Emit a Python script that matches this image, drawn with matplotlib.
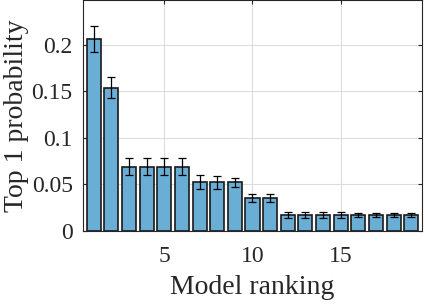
import matplotlib
matplotlib.use('Agg')
import matplotlib.pyplot as plt
import numpy as np

ranks = np.arange(1, 20)
top1_prob = [0.206, 0.154, 0.069, 0.069, 0.069, 0.069, 0.052, 0.052, 0.052,
             0.035, 0.035, 0.017, 0.017, 0.017, 0.017, 0.017, 0.017, 0.017, 0.017]
top1_err = [0.014, 0.011, 0.0095, 0.0095, 0.0095, 0.0095, 0.0075, 0.007, 0.005,
            0.0043, 0.0043, 0.0033, 0.0033, 0.003, 0.0028, 0.0018, 0.0018, 0.0018, 0.0018]
x_ticks = [5, 10, 15]
y_ticks = [0, 0.05, 0.1, 0.15, 0.2]
y_ticklabels = ['0', '0.05', '0.1', '0.15', '0.2']

plt.rcParams['font.family'] = ['Liberation Serif', 'DejaVu Serif']

fig = plt.figure(figsize=(4.24, 3.05), dpi=100)
ax = fig.add_axes([0.196, 0.243, 0.799, 0.757])

ax.bar(ranks, top1_prob, width=0.8, color='#6aaed6', edgecolor='#1a1a1a',
       linewidth=1.2, zorder=2)
ax.errorbar(ranks, top1_prob, yerr=top1_err, fmt='none', ecolor='black',
            elinewidth=0.9, capsize=3, capthick=0.9, zorder=3)

ax.set_xlim(0.4, 19.6)
ax.set_ylim(0, 0.248)
ax.set_xticks(x_ticks)
ax.set_yticks(y_ticks)
ax.set_yticklabels(y_ticklabels)
ax.tick_params(direction='in', length=3, labelsize=17, color='#262626',
               labelcolor='#262626',
               top=True, right=True, labeltop=False, labelright=False)
ax.tick_params(axis='x', pad=11)
ax.tick_params(axis='y', pad=7.5)
ax.grid(True, color='#dcdcdc', linewidth=0.8, zorder=0)
ax.set_axisbelow(True)
for s in ax.spines.values():
    s.set_color('#262626')
    s.set_linewidth(0.8)

ax.set_xlabel('Model ranking', fontsize=20, labelpad=6, color='#262626')
ax.set_ylabel('Top 1 probability', fontsize=20, labelpad=2, color='#262626')

fig.savefig('out.png', dpi=100)
